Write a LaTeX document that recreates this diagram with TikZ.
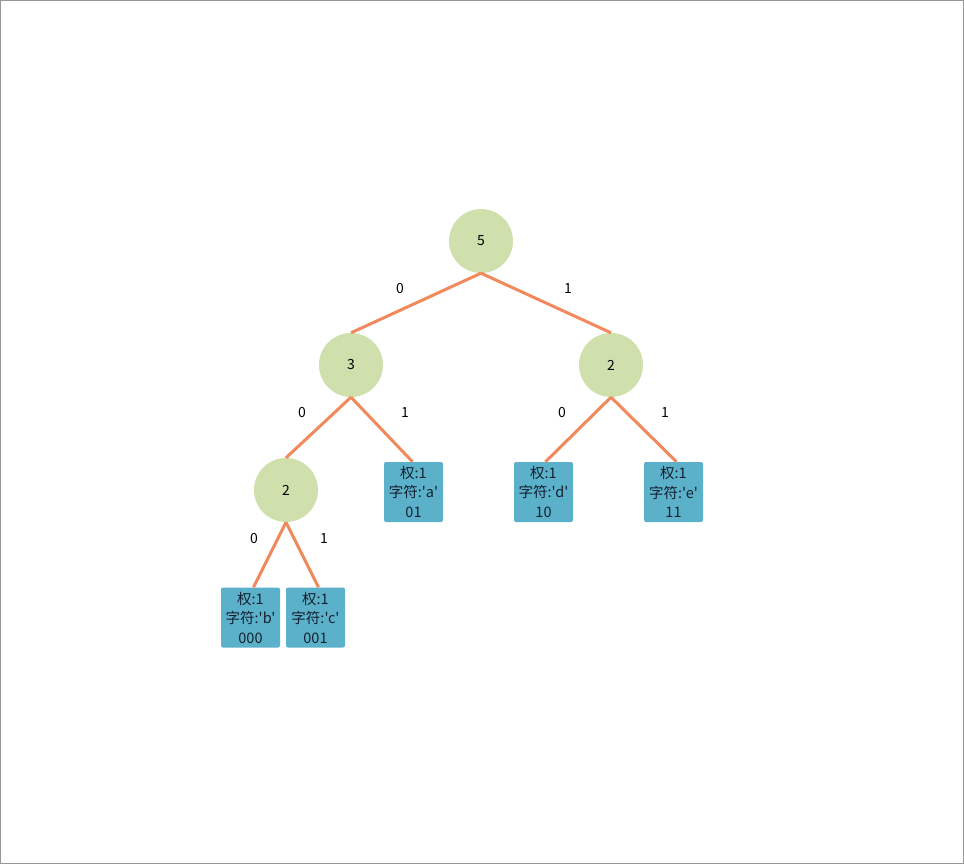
\documentclass[tikz,border=0pt]{standalone}
\usepackage{fontspec}
\setmainfont{Noto Sans CJK SC}[Ligatures=TeXOff]
\begin{document}
\begin{tikzpicture}[x=1pt,y=-1pt,
  inner/.style={circle,fill=innerfill,minimum size=64pt,inner sep=0pt,font=\fontsize{14}{16}\selectfont,text=black},
  leaf/.style={rectangle,rounded corners=2pt,fill=leaffill,minimum width=59pt,minimum height=60pt,inner sep=0pt,align=center,font=\fontsize{14.5}{19.5}\selectfont,text=leaftext},
  branch/.style={draw=edgecol,line width=3pt},
  bit/.style={font=\fontsize{14}{16}\selectfont,text=black}]
\definecolor{innerfill}{RGB}{207,224,173}
\definecolor{leaffill}{RGB}{91,177,201}
\definecolor{leaftext}{RGB}{20,32,48}
\definecolor{edgecol}{RGB}{240,138,93}
% frame
\draw[draw={rgb,255:red,150;green,150;blue,150},line width=1pt] (0.5,0.5) rectangle (963.5,863.5);
\useasboundingbox (0,0) rectangle (964,864);
% internal nodes (weights)
\node[inner] (r)  at (481,241) {5};
\node[inner] (l)  at (351,365) {3};
\node[inner] (rr) at (611,365) {2};
\node[inner] (ll) at (286,490) {2};
% leaves: weight, character, code
\node[leaf] (a) at (413.5,492) {权:1\\字符:'a'\\01};
\node[leaf] (d) at (543.5,492) {权:1\\字符:'d'\\10};
\node[leaf] (e) at (673.5,492) {权:1\\字符:'e'\\11};
\node[leaf] (b) at (250.5,617.5) {权:1\\字符:'b'\\000};
\node[leaf] (c) at (315.5,617.5) {权:1\\字符:'c'\\001};
% branches
\draw[branch] (r.south) -- (l.north);
\draw[branch] (r.south) -- (rr.north);
\draw[branch] (l.south) -- (ll.north);
\draw[branch] (l.south) -- ([xshift=-1pt]a.north);
\draw[branch] (rr.south) -- ([xshift=2pt]d.north);
\draw[branch] (rr.south) -- ([xshift=3pt]e.north);
\draw[branch] (ll.south) -- ([xshift=3pt]b.north);
\draw[branch] (ll.south) -- ([xshift=3pt]c.north);
% branch labels
\node[bit] (t1) at (400,289) {0};
\node[bit] (t2) at (568,289) {1};
\node[bit] (t3) at (302,413) {0};
\node[bit] (t4) at (405,413) {1};
\node[bit] (t5) at (562,413) {0};
\node[bit] (t6) at (665,413) {1};
\node[bit] (t7) at (254,539) {0};
\node[bit] (t8) at (324,539) {1};
\end{tikzpicture}
\end{document}
